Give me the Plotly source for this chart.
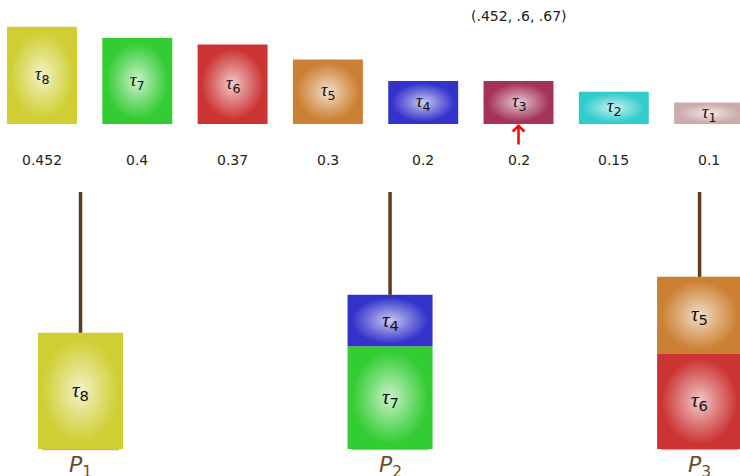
import plotly.graph_objects as go

# ---------------- data ----------------
task_ids = [8, 7, 6, 5, 4, 3, 2, 1]
utilization = [0.452, 0.4, 0.37, 0.3, 0.2, 0.2, 0.15, 0.1]
value_labels = ["0.452", "0.4", "0.37", "0.3", "0.2", "0.2", "0.15", "0.1"]
edge_colors = ["#cfcf33", "#33cc33", "#cc3333", "#cc8033",
               "#3333cc", "#a33357", "#33cccc", "#ccaaaa"]
processors = [1, 2, 3]
assignment = [[8], [7, 4], [6, 5]]   # stacked bottom -> top
next_task = 3                        # task pointed at by the arrow
capacity = 1.0

# ---------------- style ----------------
SLOT_W = 0.734
PROC_W = 0.892
PROC_X0 = 0.404
PROC_STEP = 3.248
LINE_BROWN = "#5c3d1f"
LABEL_BROWN = "#6b4c2c"
NUM_FONT = "DejaVu Sans"


def lighten(hex_color, f):
    h = hex_color.lstrip("#")
    r, g, b = (int(h[i:i + 2], 16) for i in (0, 2, 4))
    r, g, b = (round(c + (255 - c) * f) for c in (r, g, b))
    return f"rgb({r},{g},{b})"


def tau_label(k):
    return (f'<span style="font-family:Liberation Serif"><i>τ</i></span>'
            f'<sub>{k}</sub>')


color_of = dict(zip(task_ids, edge_colors))
util_of = dict(zip(task_ids, utilization))

fig = go.Figure()


def box(x0, x1, y0, y1, color, yaxis):
    fig.add_trace(go.Scatter(
        x=[x0, x1, x1, x0, x0], y=[y0, y0, y1, y1, y0],
        mode="lines", fill="toself",
        line=dict(width=0, color=color),
        fillgradient=dict(type="radial",
                          colorscale=[[0, lighten(color, 0.74)],
                                      [0.45, lighten(color, 0.36)],
                                      [0.9, color],
                                      [1, color]]),
        hoverinfo="skip", showlegend=False, yaxis=yaxis))


annotations = []

# top row of tasks
for i, (k, u) in enumerate(zip(task_ids, utilization)):
    box(i - SLOT_W / 2, i + SLOT_W / 2, 0, u, color_of[k], "y")
    annotations.append(dict(x=i, y=u / 2, xref="x", yref="y", text=tau_label(k),
                            showarrow=False, font=dict(size=18, color="#111111", family=NUM_FONT)))
    annotations.append(dict(x=i, y=0, xref="x", yref="y", text=value_labels[i],
                            showarrow=False, yshift=-36,
                            font=dict(size=14, color="#222222", family=NUM_FONT)))

# processors
sums = []
for j, (p, tasks) in enumerate(zip(processors, assignment)):
    cx = PROC_X0 + PROC_STEP * j
    # baseline shadow
    fig.add_trace(go.Scatter(x=[cx - 0.404, cx + 0.404], y=[0, 0], mode="lines",
                             line=dict(color="#b4b4b4", width=2.5),
                             hoverinfo="skip", showlegend=False, yaxis="y2"))
    level = 0.0
    for k in tasks:
        u = util_of[k]
        box(cx - PROC_W / 2, cx + PROC_W / 2, level, level + u, color_of[k], "y2")
        annotations.append(dict(x=cx, y=level + u / 2, xref="x", yref="y2",
                                text=tau_label(k), showarrow=False,
                                font=dict(size=21, color="#111111", family=NUM_FONT)))
        level += u
    sums.append(level)
    # remaining capacity line
    fig.add_trace(go.Scatter(x=[cx, cx], y=[level, capacity], mode="lines",
                             line=dict(color=LINE_BROWN, width=3.5),
                             hoverinfo="skip", showlegend=False, yaxis="y2"))
    annotations.append(dict(x=cx, y=0, xref="x", yref="y2",
                            text=f"<i>P</i><sub>{p}</sub>", showarrow=False, yshift=-17,
                            font=dict(size=22, color=LABEL_BROWN, family=NUM_FONT)))

# summary of processor loads, above the next task
sum_text = "(" + ", ".join(f"{round(s, 3):g}".lstrip("0") for s in sums) + ")"
arrow_i = task_ids.index(next_task)
annotations.append(dict(x=arrow_i, y=1 - 16 / 476, xref="x", yref="paper", text=sum_text,
                        yanchor="middle", showarrow=False,
                        font=dict(size=14, color="#222222", family=NUM_FONT)))

# red arrow pointing to the next task
annotations.append(dict(x=arrow_i, y=0, xref="x", yref="y", ax=0, ay=22,
                        showarrow=True, arrowhead=4, arrowsize=0.9, arrowwidth=2.5,
                        arrowcolor="#ff0000", text="", standoff=0))

fig.update_layout(
    width=740, height=476,
    margin=dict(l=0, r=0, t=0, b=0),
    paper_bgcolor="white", plot_bgcolor="white",
    showlegend=False,
    xaxis=dict(range=[-0.4407, 7.324], visible=False, fixedrange=True),
    yaxis=dict(range=[-1.637, 0.5767], visible=False, fixedrange=True),
    yaxis2=dict(range=[-0.105, 1.747], visible=False, overlaying="y", fixedrange=True),
    annotations=annotations,
)

fig.write_html("out.html", config={"displayModeBar": False},
               post_script="document.body.style.margin='0';document.body.style.overflow='hidden';")
